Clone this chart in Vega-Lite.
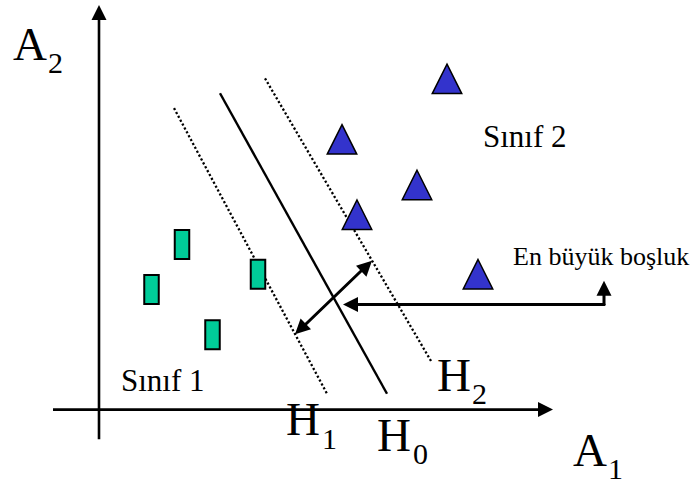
{
  "$schema": "https://vega.github.io/schema/vega-lite/v6.json",
  "width": 697,
  "height": 485,
  "autosize": {"type": "fit", "contains": "padding"},
  "padding": 0,
  "background": "white",
  "config": {"view": {"stroke": null}},
  "datasets": {
    "segments": [
      {"part": "axis", "x": 0, "y": -30, "x2": 0, "y2": 395},
      {"part": "axis", "x": -46, "y": 0, "x2": 440, "y2": 0},
      {"part": "H0", "x": 121, "y": 319, "x2": 288, "y2": 16},
      {"part": "H1", "x": 75, "y": 304, "x2": 228, "y2": 16},
      {"part": "H2", "x": 166, "y": 334, "x2": 332, "y2": 49},
      {"part": "margin", "x": 202, "y": 81.5, "x2": 267, "y2": 144.5},
      {"part": "pointer", "x": 252, "y": 106, "x2": 505, "y2": 106},
      {"part": "pointer", "x": 505, "y": 106, "x2": 505, "y2": 117}
    ],
    "heads": [
      {"x": 0, "y": 408, "angle": 0},
      {"x": 454, "y": 0, "angle": 90},
      {"x": 273, "y": 150, "angle": 46},
      {"x": 196, "y": 76, "angle": 226},
      {"x": 244, "y": 106, "angle": 270},
      {"x": 505, "y": 130, "angle": 0}
    ],
    "class1": [
      {"x": 83, "y": 166.5},
      {"x": 52.5, "y": 121},
      {"x": 159, "y": 136.5},
      {"x": 113.5, "y": 75.5}
    ],
    "class2": [
      {"x": 348, "y": 333.5},
      {"x": 243, "y": 272.5},
      {"x": 318, "y": 226.5},
      {"x": 258, "y": 196.5},
      {"x": 379, "y": 136.5}
    ],
    "labels": [
      {"role": "big", "text": "A", "x": -86, "y": 352},
      {"role": "sub", "text": "2", "x": -51, "y": 339},
      {"role": "big", "text": "A", "x": 474, "y": -57},
      {"role": "sub", "text": "1", "x": 509, "y": -70},
      {"role": "big", "text": "H", "x": 187, "y": -26},
      {"role": "sub", "text": "1", "x": 223, "y": -40},
      {"role": "big", "text": "H", "x": 278, "y": -42},
      {"role": "sub", "text": "0", "x": 314, "y": -55},
      {"role": "big", "text": "H", "x": 338, "y": 19},
      {"role": "sub", "text": "2", "x": 373, "y": 6},
      {"role": "class", "text": "Sınıf 1", "x": 22, "y": 19},
      {"role": "class", "text": "Sınıf 2", "x": 384, "y": 265},
      {"role": "note", "text": "En büyük boşluk", "x": 414, "y": 146}
    ]
  },
  "encoding": {
    "x": {"field": "x", "type": "quantitative", "scale": {"domain": [-99, 598], "nice": false, "zero": false}, "axis": null},
    "y": {"field": "y", "type": "quantitative", "scale": {"domain": [-72, 413], "nice": false, "zero": false}, "axis": null}
  },
  "layer": [
    {
      "data": {"name": "segments"},
      "transform": [{"filter": "datum.part === 'axis'"}],
      "mark": {"type": "rule", "color": "black", "strokeWidth": 2.6},
      "encoding": {"x2": {"field": "x2"}, "y2": {"field": "y2"}}
    },
    {
      "data": {"name": "segments"},
      "transform": [{"filter": "datum.part === 'H0'"}],
      "mark": {"type": "rule", "color": "black", "strokeWidth": 2.4},
      "encoding": {"x2": {"field": "x2"}, "y2": {"field": "y2"}}
    },
    {
      "data": {"name": "segments"},
      "transform": [{"filter": "datum.part === 'H1' || datum.part === 'H2'"}],
      "mark": {"type": "rule", "color": "black", "strokeWidth": 2.3, "strokeDash": [2.2, 2.2]},
      "encoding": {"x2": {"field": "x2"}, "y2": {"field": "y2"}}
    },
    {
      "data": {"name": "class1"},
      "mark": {"type": "point", "filled": true, "shape": "M-0.5,-1H0.5V1H-0.5Z", "size": 841, "fill": "#00cc99", "stroke": "black", "strokeWidth": 2, "opacity": 1, "fillOpacity": 1, "strokeOpacity": 1}
    },
    {
      "data": {"name": "class2"},
      "mark": {"type": "point", "filled": true, "shape": "M0,-1L1,1L-1,1Z", "size": 870, "fill": "#3333cc", "stroke": "black", "strokeWidth": 1.5, "opacity": 1, "fillOpacity": 1, "strokeOpacity": 1}
    },
    {
      "data": {"name": "segments"},
      "transform": [{"filter": "datum.part === 'margin' || datum.part === 'pointer'"}],
      "mark": {"type": "rule", "color": "black", "strokeWidth": 3, "strokeCap": "round"},
      "encoding": {"x2": {"field": "x2"}, "y2": {"field": "y2"}}
    },
    {
      "data": {"name": "heads"},
      "mark": {"type": "point", "filled": true, "shape": "M0,0L1,2L-1,2Z", "size": 225, "fill": "black", "opacity": 1, "strokeWidth": 0},
      "encoding": {"angle": {"field": "angle", "type": "quantitative", "scale": null}}
    },
    {
      "data": {"name": "labels"},
      "transform": [{"filter": "datum.role === 'big'"}],
      "mark": {"type": "text", "align": "left", "baseline": "alphabetic", "font": "Liberation Serif", "fontSize": 47, "color": "black"},
      "encoding": {"text": {"field": "text"}}
    },
    {
      "data": {"name": "labels"},
      "transform": [{"filter": "datum.role === 'sub'"}],
      "mark": {"type": "text", "align": "left", "baseline": "alphabetic", "font": "Liberation Serif", "fontSize": 30, "color": "black"},
      "encoding": {"text": {"field": "text"}}
    },
    {
      "data": {"name": "labels"},
      "transform": [{"filter": "datum.role === 'class'"}],
      "mark": {"type": "text", "align": "left", "baseline": "alphabetic", "font": "Liberation Serif", "fontSize": 31, "color": "black"},
      "encoding": {"text": {"field": "text"}}
    },
    {
      "data": {"name": "labels"},
      "transform": [{"filter": "datum.role === 'note'"}],
      "mark": {"type": "text", "align": "left", "baseline": "alphabetic", "font": "Liberation Serif", "fontSize": 26, "color": "black"},
      "encoding": {"text": {"field": "text"}}
    }
  ]
}
